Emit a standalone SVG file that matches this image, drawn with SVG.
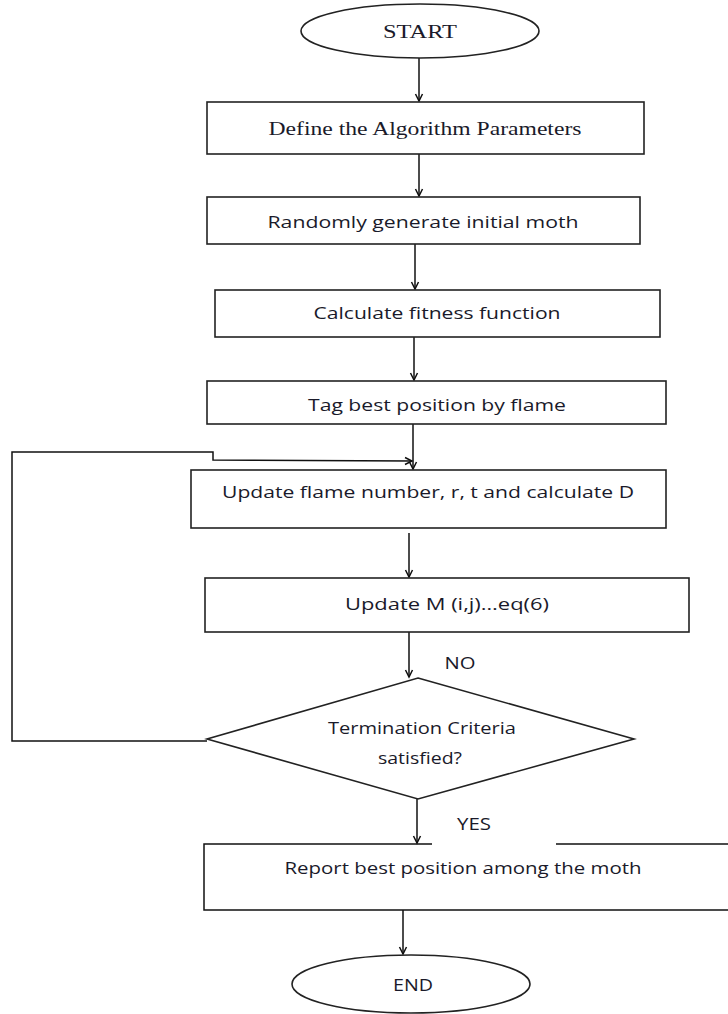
<svg xmlns="http://www.w3.org/2000/svg" width="728" height="1014" viewBox="0 0 728 1014">
<style>
.shape{fill:#fff;stroke:#222;stroke-width:1.6}
.conn{fill:none;stroke:#111;stroke-width:1.5;marker-end:url(#arr)}
.line{fill:none;stroke:#111;stroke-width:1.5}
.t{font-family:"Open Sans","Liberation Sans",sans-serif;font-size:17px;fill:#1a1a2a;text-anchor:middle;dominant-baseline:central}
.s{font-family:"Liberation Serif","Times New Roman",serif;font-size:19px;fill:#1a1a2a;text-anchor:middle;dominant-baseline:central}
</style>
<defs>
<marker id="arr" markerWidth="10" markerHeight="10" refX="8" refY="5" orient="auto" markerUnits="userSpaceOnUse">
<path d="M1,1.5 L8,5 L1,8.5" fill="none" stroke="#111" stroke-width="1.5"/>
</marker>
</defs>
<rect width="728" height="1014" fill="#fff"/>
<g id="connectors">
<line class="conn" x1="419" y1="58" x2="419" y2="101"/>
<line class="conn" x1="419" y1="154" x2="419" y2="196"/>
<line class="conn" x1="415" y1="244" x2="415" y2="289"/>
<line class="conn" x1="414" y1="337" x2="414" y2="380"/>
<line class="conn" x1="413" y1="424" x2="413" y2="469"/>
<polyline class="conn" points="207,741 12,741 12,452 213,452 213,460 412,461"/>
<line class="conn" x1="409" y1="533" x2="409" y2="577"/>
<line class="conn" x1="409" y1="632" x2="409" y2="677"/>
<line class="conn" x1="417" y1="799" x2="417" y2="843"/>
<line class="conn" x1="403" y1="910" x2="403" y2="954"/>
<text class="t" x="460" y="662" textLength="31" lengthAdjust="spacingAndGlyphs">NO</text>
<text class="t" x="474" y="823" textLength="34" lengthAdjust="spacingAndGlyphs">YES</text>
</g>
<g id="start">
<ellipse class="shape" cx="420" cy="31" rx="119" ry="27"/>
<text class="s" x="420" y="31" textLength="74" lengthAdjust="spacingAndGlyphs">START</text>
</g>
<g id="define">
<rect class="shape" x="207" y="102" width="437" height="52"/>
<text class="s" x="425" y="128" textLength="313" lengthAdjust="spacingAndGlyphs">Define the Algorithm Parameters</text>
</g>
<g id="random">
<rect class="shape" x="207" y="197" width="433" height="47"/>
<text class="t" x="423" y="221" textLength="311" lengthAdjust="spacingAndGlyphs">Randomly generate initial moth</text>
</g>
<g id="fitness">
<rect class="shape" x="215" y="290" width="445" height="47"/>
<text class="t" x="437" y="312" textLength="247" lengthAdjust="spacingAndGlyphs">Calculate fitness function</text>
</g>
<g id="tag">
<rect class="shape" x="207" y="381" width="459" height="43"/>
<text class="t" x="437" y="404" textLength="258" lengthAdjust="spacingAndGlyphs">Tag best position by flame</text>
</g>
<g id="updateflame">
<rect class="shape" x="191" y="470" width="475" height="58"/>
<text class="t" x="428" y="491" textLength="412" lengthAdjust="spacingAndGlyphs">Update flame number, r, t and calculate D</text>
</g>
<g id="updateM">
<rect class="shape" x="205" y="578" width="484" height="54"/>
<text class="t" x="447" y="603" textLength="204" lengthAdjust="spacingAndGlyphs">Update M (i,j)…eq(6)</text>
</g>
<g id="decision">
<polygon class="shape" points="418,678 634,739 418,799 207,739"/>
<text class="t" x="422" y="727" textLength="188" lengthAdjust="spacingAndGlyphs">Termination Criteria</text>
<text class="t" x="420" y="757" textLength="84" lengthAdjust="spacingAndGlyphs">satisfied?</text>
</g>
<g id="report">
<path class="line" d="M432,844 L204,844 L204,910 L729,910 M556,844 L729,844" stroke-width="1.6"/>
<text class="t" x="463" y="867" textLength="357" lengthAdjust="spacingAndGlyphs">Report best position among the moth</text>
</g>
<g id="end">
<ellipse class="shape" cx="411" cy="984" rx="119" ry="29"/>
<text class="t" x="413" y="984" textLength="40" lengthAdjust="spacingAndGlyphs">END</text>
</g>
</svg>
